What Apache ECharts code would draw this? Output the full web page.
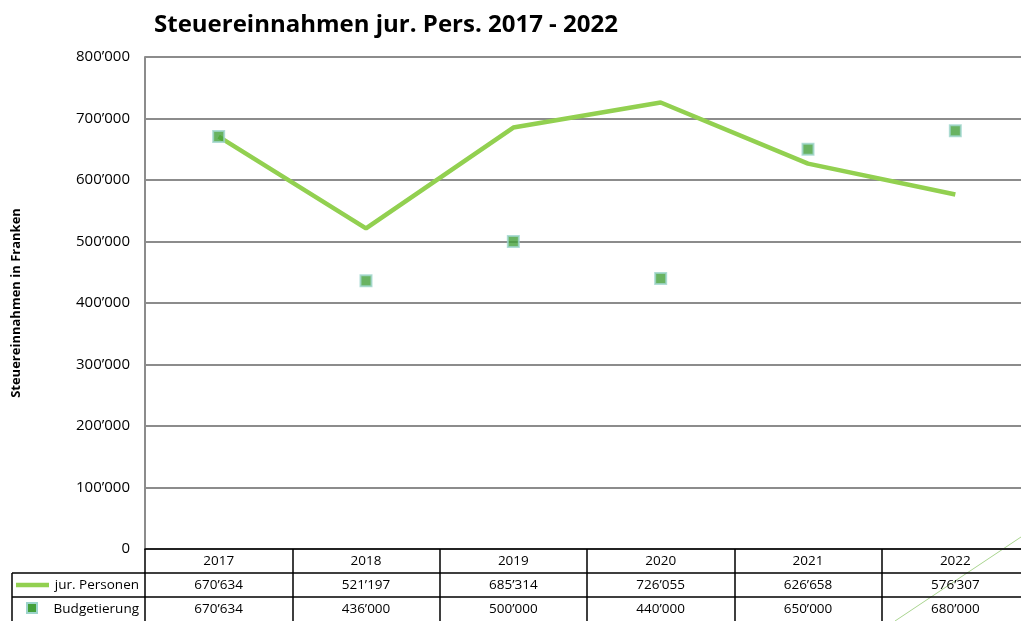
<!DOCTYPE html>
<html>
<head>
<meta charset="utf-8">
<script src="https://cdn.jsdelivr.net/npm/echarts@6/dist/echarts.min.js"></script>
<style>
  html, body { margin: 0; padding: 0; background: #fff; }
  #main { width: 1021px; height: 621px; }
</style>
</head>
<body>
<div id="main"></div>
<script>
// Daten
const years = ['2017', '2018', '2019', '2020', '2021', '2022'];
const jurPersonen = [670634, 521197, 685314, 726055, 626658, 576307];
const budgetierung = [670634, 436000, 500000, 440000, 650000, 680000];

// 670634 -> 670’634
const fmt = (v) => {
  const s = String(Math.round(v));
  return s.replace(/\B(?=(\d{3})+(?!\d))/g, '\u2019');
};

const font = 'Open Sans';
const lineColor = '#92d050';
const gridColor = '#8c8c8c';
const markerFill = '#44a03a';
const markerBorder = '#9ed4cc';

const chart = echarts.init(document.getElementById('main'));

const tableAxis = (data, offset, showTicks) => ({
  type: 'category',
  gridIndex: 0,
  position: 'bottom',
  offset: offset,
  data: data,
  boundaryGap: true,
  axisLine: { show: true, lineStyle: { color: '#000', width: 1.5 } },
  axisTick: {
    show: showTicks,
    alignWithLabel: false,
    length: 72,
    inside: false,
    lineStyle: { color: '#000', width: 1.5 }
  },
  axisLabel: {
    show: true,
    interval: 0,
    margin: 12,
    verticalAlign: 'middle',
    color: '#000',
    fontFamily: font,
    fontSize: 13.5
  }
});

const option = {
  animation: false,
  backgroundColor: '#fff',
  title: {
    text: 'Steuereinnahmen jur. Pers. 2017 - 2022',
    left: 149,
    top: 8,
    textStyle: { fontFamily: font, fontSize: 24, fontWeight: 'bold', color: '#000' }
  },
  grid: { left: 145, top: 57, width: 884, height: 492, outerBoundsMode: 'none', containLabel: false },
  xAxis: [
    tableAxis(years, 0, true),
    tableAxis(jurPersonen.map(fmt), 24, false),
    tableAxis(budgetierung.map(fmt), 48, false)
  ],
  yAxis: {
    type: 'value',
    min: 0,
    max: 800000,
    interval: 100000,
    name: 'Steuereinnahmen in Franken',
    nameLocation: 'middle',
    nameGap: 122,
    nameTextStyle: { fontFamily: font, fontSize: 13, fontWeight: 'bold', color: '#000' },
    axisLine: { show: true, lineStyle: { color: gridColor, width: 2 } },
    axisTick: { show: false },
    axisLabel: {
      formatter: (v) => fmt(v),
      margin: 15,
      fontFamily: font,
      fontSize: 15,
      color: '#000'
    },
    splitLine: { show: true, lineStyle: { color: gridColor, width: 2 } }
  },
  series: [
    {
      name: 'jur. Personen',
      type: 'line',
      xAxisIndex: 0,
      data: jurPersonen,
      showSymbol: false,
      lineStyle: { color: lineColor, width: 4.5 },
      itemStyle: { color: lineColor },
      z: 3
    },
    {
      name: 'Budgetierung',
      type: 'scatter',
      xAxisIndex: 0,
      data: budgetierung,
      symbol: 'rect',
      symbolSize: 11,
      itemStyle: { color: markerFill, borderColor: markerBorder, borderWidth: 2 },
      z: 4
    }
  ],
  graphic: [
    // Legendenspalte der Datentabelle
    { type: 'line', shape: { x1: 12, y1: 573, x2: 145, y2: 573 }, style: { stroke: '#000', lineWidth: 1.5 } },
    { type: 'line', shape: { x1: 12, y1: 597, x2: 145, y2: 597 }, style: { stroke: '#000', lineWidth: 1.5 } },
    { type: 'line', shape: { x1: 12, y1: 573, x2: 12, y2: 621 }, style: { stroke: '#000', lineWidth: 1.5 } },
    { type: 'line', shape: { x1: 16, y1: 585, x2: 49, y2: 585 }, style: { stroke: lineColor, lineWidth: 4.5 } },
    { type: 'rect', shape: { x: 27, y: 603, width: 10, height: 10 }, style: { fill: markerFill, stroke: markerBorder, lineWidth: 2 } },
    { type: 'text', x: 139, y: 585, style: { text: 'jur. Personen', align: 'right', verticalAlign: 'middle', font: '13.5px "Open Sans"', fill: '#000' } },
    { type: 'text', x: 139, y: 609, style: { text: 'Budgetierung', align: 'right', verticalAlign: 'middle', font: '13.5px "Open Sans"', fill: '#000' } },
    // schmale grüne Linie unten rechts
    { type: 'line', shape: { x1: 895, y1: 621, x2: 1021, y2: 537 }, style: { stroke: '#a9d48f', lineWidth: 1 } }
  ]
};

chart.setOption(option);
</script>
</body>
</html>
